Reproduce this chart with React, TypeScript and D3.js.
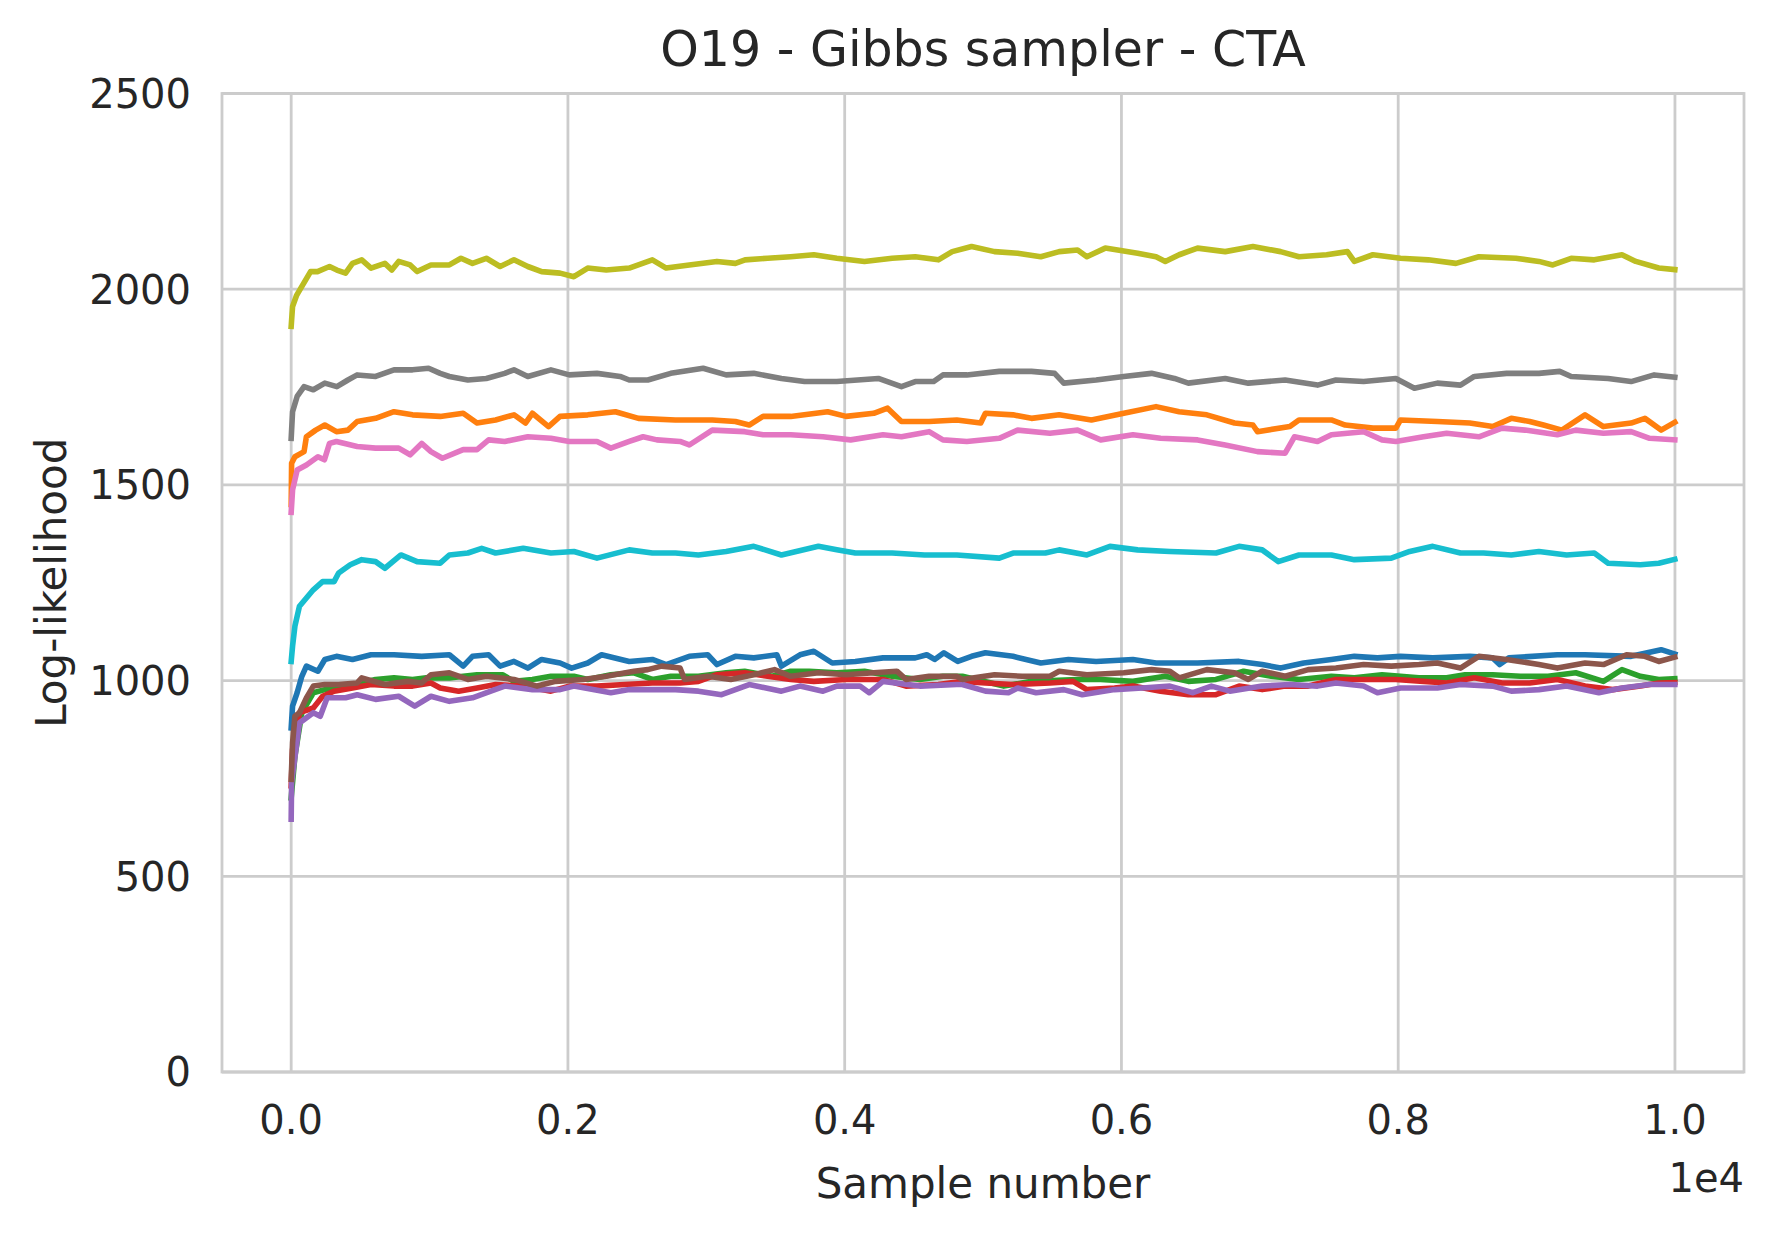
import { useEffect, useRef } from 'react';
import * as d3 from 'd3';

type Pt = [number, number];

const blue: Pt[] = [[0,879],[10,935],[43,969],[77,1011],[110,1037],[193,1024],[243,1054],[327,1062],[443,1054],[577,1066],[743,1066],[943,1062],[1143,1066],[1243,1037],[1310,1062],[1427,1066],[1510,1037],[1610,1049],[1710,1032],[1810,1054],[1943,1045],[2027,1032],[2143,1045],[2243,1066],[2443,1049],[2610,1054],[2710,1041],[2877,1062],[3010,1066],[3077,1041],[3210,1062],[3343,1058],[3510,1066],[3543,1037],[3677,1066],[3777,1075],[3910,1045],[4077,1049],[4277,1058],[4510,1058],[4593,1066],[4650,1054],[4717,1071],[4817,1049],[4917,1062],[5017,1071],[5217,1062],[5417,1045],[5617,1054],[5817,1049],[6083,1054],[6250,1045],[6550,1045],[6850,1049],[7017,1041],[7150,1032],[7317,1045],[7517,1054],[7683,1062],[7850,1058],[8017,1062],[8250,1058],[8517,1062],[8683,1058],[8733,1041],[8800,1058],[9150,1066],[9350,1066],[9683,1062],[9900,1079],[9999,1068]];
const orange: Pt[] = [[0,1450],[3,1555],[27,1572],[93,1585],[110,1623],[177,1640],[243,1653],[327,1636],[410,1640],[477,1662],[610,1670],[743,1687],[877,1679],[1077,1675],[1243,1683],[1343,1658],[1477,1666],[1610,1679],[1693,1658],[1743,1683],[1860,1649],[1943,1675],[2143,1679],[2343,1687],[2510,1670],[2777,1666],[3043,1666],[3210,1662],[3310,1653],[3410,1675],[3610,1675],[3877,1687],[4010,1675],[4210,1683],[4310,1696],[4410,1662],[4610,1662],[4810,1666],[4983,1658],[5017,1683],[5217,1679],[5350,1670],[5550,1679],[5783,1666],[6017,1683],[6250,1700],[6417,1687],[6617,1679],[6817,1658],[6950,1653],[6983,1636],[7217,1649],[7283,1666],[7517,1666],[7617,1653],[7817,1645],[7983,1645],[8017,1666],[8283,1662],[8517,1658],[8683,1649],[8817,1670],[8950,1662],[9050,1653],[9183,1640],[9350,1679],[9483,1649],[9683,1658],[9783,1670],[9900,1640],[9999,1660]];
const green: Pt[] = [[0,700],[27,807],[77,918],[160,969],[243,977],[410,986],[610,1003],[743,1007],[877,1003],[977,1007],[1143,1007],[1343,1015],[1527,1015],[1610,998],[1743,1003],[1877,1011],[2043,1011],[2143,1003],[2310,1015],[2477,1020],[2610,1003],[2743,1011],[2943,1011],[3143,1020],[3277,1024],[3477,1011],[3610,1024],[3743,1024],[3943,1020],[4143,1024],[4343,1011],[4543,1003],[4710,1011],[4850,1011],[5150,986],[5350,998],[5683,1003],[5850,1003],[6083,998],[6317,1011],[6483,998],[6683,1003],[6883,1024],[7083,1011],[7283,1003],[7517,1011],[7683,1007],[7883,1015],[8150,1007],[8350,1007],[8483,1015],[8683,1015],[8883,1011],[9083,1011],[9283,1020],[9483,998],[9617,1028],[9750,1011],[9883,1003],[9999,1005]];
const red: Pt[] = [[0,731],[10,824],[60,918],[160,930],[227,960],[310,973],[443,981],[577,990],[743,986],[877,986],[1010,994],[1077,981],[1210,973],[1343,981],[1477,990],[1677,986],[1877,973],[2010,986],[2210,986],[2410,990],[2610,994],[2810,994],[2943,998],[3077,1015],[3277,1020],[3443,1011],[3610,1003],[3777,998],[4010,1003],[4277,1003],[4443,986],[4677,990],[4850,998],[5017,994],[5217,990],[5483,994],[5650,998],[5750,977],[5950,981],[6083,986],[6283,973],[6483,964],[6683,964],[6850,986],[7017,977],[7183,986],[7350,986],[7550,1003],[7750,1003],[7983,1003],[8183,998],[8350,994],[8550,1007],[8750,994],[8950,994],[9150,1003],[9350,986],[9550,977],[9750,986],[9883,994],[9999,995]];
const purple: Pt[] = [[0,646],[3,739],[60,892],[160,918],[210,909],[260,956],[393,956],[477,964],[610,952],[777,960],[893,935],[1010,960],[1143,947],[1310,956],[1443,973],[1543,986],[1743,977],[1943,977],[2043,986],[2310,969],[2443,977],[2610,977],[2777,977],[2943,973],[3110,964],[3310,990],[3543,973],[3677,986],[3843,973],[3943,986],[4110,986],[4177,969],[4277,998],[4543,986],[4810,990],[4850,990],[5017,973],[5183,969],[5250,981],[5383,969],[5583,977],[5717,964],[5950,977],[6150,981],[6350,986],[6517,969],[6650,986],[6783,973],[7017,986],[7217,990],[7417,986],[7550,994],[7750,986],[7850,969],[8017,981],[8283,981],[8450,990],[8683,986],[8817,973],[9017,977],[9217,986],[9450,969],[9617,981],[9817,990],[9999,990]];
const brown: Pt[] = [[0,748],[10,841],[27,909],[60,918],[110,956],[160,986],[243,990],[343,990],[477,994],[510,1007],[677,990],[843,998],[943,994],[1010,1015],[1143,1020],[1277,1003],[1410,1011],[1610,1003],[1777,986],[1910,998],[2110,1003],[2277,1011],[2477,1024],[2577,1028],[2677,1037],[2810,1032],[2843,1003],[3010,1011],[3177,1003],[3343,1015],[3493,1028],[3610,1011],[3810,1020],[4010,1015],[4210,1020],[4377,1024],[4443,1003],[4610,1011],[4810,1011],[4850,1003],[5083,1015],[5283,1011],[5483,1011],[5550,1024],[5750,1015],[6017,1020],[6217,1028],[6350,1024],[6417,1007],[6617,1028],[6817,1020],[6917,1003],[7017,1024],[7183,1011],[7350,1028],[7550,1032],[7750,1041],[7950,1037],[8150,1041],[8283,1045],[8450,1032],[8583,1062],[8783,1054],[9017,1041],[9150,1032],[9350,1045],[9483,1041],[9650,1066],[9783,1062],[9883,1049],[9999,1060]];
const pink: Pt[] = [[0,1430],[10,1487],[43,1538],[110,1551],[193,1572],[240,1564],[277,1606],[327,1611],[477,1598],[610,1594],[777,1594],[860,1577],[943,1606],[1010,1585],[1093,1568],[1243,1590],[1343,1590],[1427,1615],[1543,1611],[1710,1623],[1877,1619],[2010,1611],[2210,1611],[2310,1594],[2443,1611],[2543,1623],[2643,1615],[2810,1611],[2877,1602],[3043,1640],[3277,1636],[3410,1628],[3610,1628],[3843,1623],[4043,1615],[4277,1628],[4410,1623],[4610,1636],[4710,1615],[4883,1611],[5117,1619],[5250,1640],[5483,1632],[5683,1640],[5850,1615],[6083,1628],[6283,1619],[6550,1615],[6750,1602],[6983,1585],[7183,1581],[7250,1623],[7417,1611],[7517,1628],[7750,1636],[7883,1615],[7983,1611],[8183,1623],[8350,1632],[8583,1623],[8750,1645],[8917,1640],[9150,1628],[9283,1640],[9483,1632],[9683,1636],[9817,1619],[9999,1615]];
const gray: Pt[] = [[0,1619],[10,1687],[43,1726],[93,1751],[160,1743],[243,1760],[330,1751],[410,1768],[477,1781],[610,1777],[743,1794],[877,1794],[993,1798],[1077,1785],[1143,1777],[1277,1768],[1410,1772],[1543,1785],[1610,1794],[1710,1777],[1877,1794],[2010,1781],[2210,1785],[2377,1777],[2443,1768],[2577,1768],[2743,1785],[2977,1798],[3143,1781],[3343,1785],[3543,1772],[3710,1764],[3943,1764],[4243,1772],[4410,1751],[4510,1764],[4643,1764],[4710,1781],[4883,1781],[5117,1790],[5350,1790],[5517,1785],[5583,1760],[5817,1768],[6017,1777],[6217,1785],[6383,1772],[6483,1760],[6750,1772],[6917,1760],[7183,1768],[7417,1755],[7550,1768],[7750,1764],[7983,1772],[8117,1747],[8283,1760],[8450,1755],[8550,1777],[8783,1785],[9017,1785],[9167,1790],[9250,1777],[9517,1772],[9683,1764],[9850,1781],[9999,1775]];
const olive: Pt[] = [[0,1905],[10,1956],[40,1985],[90,2015],[140,2045],[190,2045],[277,2058],[330,2049],[393,2041],[443,2066],[510,2075],[577,2054],[677,2066],[727,2049],[777,2071],[860,2062],[910,2045],[1010,2062],[1143,2062],[1227,2079],[1310,2066],[1410,2079],[1510,2058],[1610,2075],[1710,2058],[1810,2045],[1943,2041],[2043,2032],[2143,2054],[2277,2049],[2443,2054],[2610,2075],[2710,2054],[2877,2062],[3077,2071],[3210,2066],[3280,2075],[3443,2079],[3610,2083],[3777,2088],[3943,2079],[4143,2071],[4343,2079],[4510,2083],[4677,2075],[4777,2096],[4917,2109],[5083,2096],[5250,2092],[5417,2083],[5550,2096],[5683,2100],[5750,2083],[5883,2105],[6117,2092],[6250,2083],[6317,2071],[6417,2088],[6550,2105],[6750,2096],[6950,2109],[7150,2096],[7283,2083],[7483,2088],[7633,2096],[7683,2071],[7817,2088],[8017,2079],[8217,2075],[8417,2066],[8583,2083],[8850,2079],[9017,2071],[9117,2062],[9250,2079],[9417,2075],[9617,2088],[9717,2071],[9883,2054],[9999,2050]];
const cyan: Pt[] = [[0,1049],[10,1088],[27,1139],[60,1190],[110,1211],[160,1232],[227,1253],[310,1253],[343,1275],[427,1296],[510,1309],[610,1304],[677,1287],[793,1321],[910,1304],[1077,1300],[1143,1321],[1277,1326],[1377,1338],[1477,1326],[1677,1338],[1877,1326],[2043,1330],[2210,1313],[2443,1334],[2610,1326],[2777,1326],[2943,1321],[3143,1330],[3343,1343],[3543,1321],[3810,1343],[3943,1334],[4077,1326],[4343,1326],[4577,1321],[4810,1321],[5117,1313],[5217,1326],[5450,1326],[5550,1334],[5750,1321],[5917,1343],[6117,1334],[6350,1330],[6683,1326],[6850,1343],[7017,1334],[7133,1304],[7283,1321],[7517,1321],[7683,1309],[7950,1313],[8083,1330],[8250,1343],[8450,1326],[8617,1326],[8817,1321],[9017,1330],[9217,1321],[9417,1326],[9517,1300],[9750,1296],[9883,1300],[9999,1310]];

const seriesList = [blue, orange, green, red, purple, brown, pink, gray, olive, cyan];
const colors = ['#1f77b4', '#ff7f0e', '#2ca02c', '#d62728', '#9467bd', '#8c564b', '#e377c2', '#7f7f7f', '#bcbd22', '#17becf'];
const xTicks = [0, 2000, 4000, 6000, 8000, 10000];
const yTicks = [0, 500, 1000, 1500, 2000, 2500];

export default function App() {
  const svgRef = useRef<SVGSVGElement>(null);

  useEffect(() => {
    document.body.style.margin = '0';
    if (!svgRef.current) return;
    const svg = d3.select(svgRef.current);
    svg.selectAll('*').remove();

    const width = 1771;
    const height = 1233;
    const left = 222;
    const right = 1744;
    const top = 93.5;
    const bottom = 1072;
    const font = "'DejaVu Sans', sans-serif";
    const ink = '#262626';
    const gridColor = '#cccccc';

    svg.attr('width', width).attr('height', height).attr('viewBox', `0 0 ${width} ${height}`);
    svg.append('rect').attr('width', width).attr('height', height).attr('fill', '#fff');

    const x = d3.scaleLinear().domain([-499.95, 10498.95]).range([left, right]);
    const y = d3.scaleLinear().domain([0, 2500]).range([bottom, top]);

    // Grid
    const grid = svg.append('g');
    xTicks.forEach((t) => {
      grid.append('line')
        .attr('x1', x(t)).attr('x2', x(t))
        .attr('y1', top).attr('y2', bottom)
        .attr('stroke', gridColor).attr('stroke-width', 2.8);
    });
    yTicks.forEach((t) => {
      grid.append('line')
        .attr('x1', left).attr('x2', right)
        .attr('y1', y(t)).attr('y2', y(t))
        .attr('stroke', gridColor).attr('stroke-width', 2.8);
    });

    // Lines
    const line = d3.line<Pt>()
      .x((d) => x(d[0]))
      .y((d) => y(d[1]))
      .curve(d3.curveLinear);

    const plot = svg.append('g');
    seriesList.forEach((s, i) => {
      plot.append('path')
        .datum(s)
        .attr('fill', 'none')
        .attr('stroke', colors[i])
        .attr('stroke-width', 5.6)
        .attr('stroke-linejoin', 'round')
        .attr('stroke-linecap', 'square')
        .attr('d', line);
    });

    // Spines
    svg.append('rect')
      .attr('x', left).attr('y', top)
      .attr('width', right - left).attr('height', bottom - top)
      .attr('fill', 'none')
      .attr('stroke', gridColor).attr('stroke-width', 2.8);

    // Tick labels
    xTicks.forEach((t) => {
      svg.append('text')
        .attr('x', x(t)).attr('y', 1134)
        .attr('text-anchor', 'middle')
        .attr('font-family', font).attr('font-size', 40).attr('fill', ink)
        .text((t / 1e4).toFixed(1));
    });
    yTicks.forEach((t) => {
      svg.append('text')
        .attr('x', 191).attr('y', y(t))
        .attr('dy', '0.36em')
        .attr('text-anchor', 'end')
        .attr('font-family', font).attr('font-size', 40).attr('fill', ink)
        .text(String(t));
    });

    svg.append('text')
      .attr('x', right).attr('y', 1192)
      .attr('text-anchor', 'end')
      .attr('font-family', font).attr('font-size', 40).attr('fill', ink)
      .text('1e4');

    // Axis labels and title
    svg.append('text')
      .attr('x', (left + right) / 2).attr('y', 1198)
      .attr('text-anchor', 'middle')
      .attr('font-family', font).attr('font-size', 42).attr('fill', ink)
      .text('Sample number');

    svg.append('text')
      .attr('transform', `translate(66, ${(top + bottom) / 2}) rotate(-90)`)
      .attr('text-anchor', 'middle')
      .attr('font-family', font).attr('font-size', 42).attr('fill', ink)
      .text('Log-likelihood');

    svg.append('text')
      .attr('x', (left + right) / 2).attr('y', 66)
      .attr('text-anchor', 'middle')
      .attr('font-family', font).attr('font-size', 49).attr('fill', ink)
      .text('O19 - Gibbs sampler - CTA');
  }, []);

  return <svg ref={svgRef} style={{ display: 'block' }} />;
}
